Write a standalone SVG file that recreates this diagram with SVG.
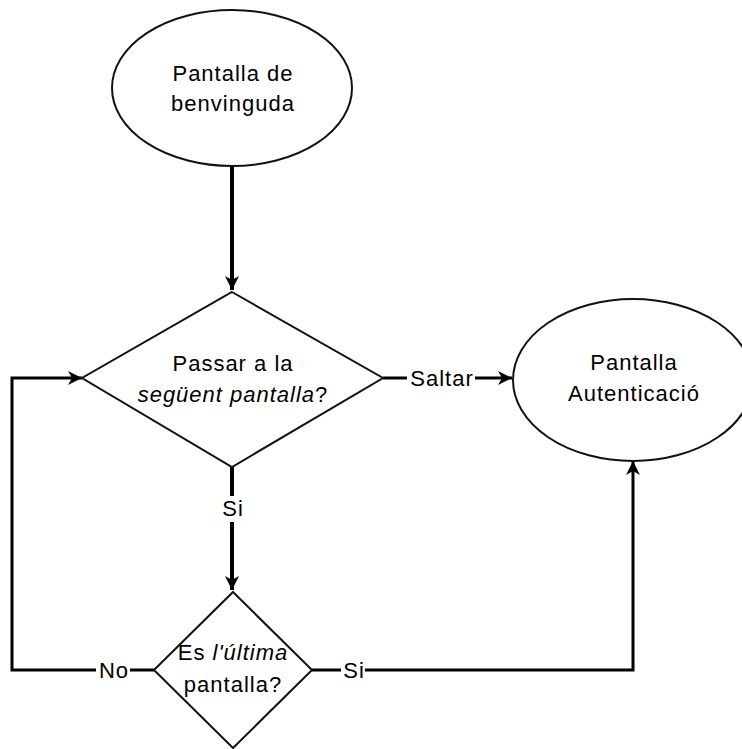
<svg xmlns="http://www.w3.org/2000/svg" width="742" height="749" viewBox="0 0 742 749">
  <style>
    .shape { fill: #ffffff; stroke: #111111; stroke-width: 2; }
    .txt { font-family: "Liberation Sans", Arial, sans-serif; font-size: 22px; letter-spacing: 1px; fill: #000000; text-anchor: middle; }
    .edge { fill: none; stroke: #000000; stroke-width: 3; }
    .edge.thick { stroke-width: 4; }
    .lblbg { fill: #ffffff; stroke: none; }
    .it { font-style: italic; }
  </style>
  <defs>
    <marker id="arrow" markerUnits="userSpaceOnUse" markerWidth="16" markerHeight="14" refX="14" refY="7" orient="auto">
      <path d="M0,0 L14,7 L0,14 L4,7 Z" fill="#000000"/>
    </marker>
  </defs>

  <!-- connectors -->
  <g id="connectors">
    <path class="edge thick" d="M232,166 V290" marker-end="url(#arrow)"/>
    <path class="edge thick" d="M232,467 V590" marker-end="url(#arrow)"/>
    <path class="edge" d="M383,378 H512" marker-end="url(#arrow)"/>
    <path class="edge" d="M155,670 H12 V378 H82" marker-end="url(#arrow)"/>
    <path class="edge" d="M312,670 H633 V461" marker-end="url(#arrow)"/>
    <!-- edge labels -->
    <rect class="lblbg" x="220" y="496" width="24" height="26"/>
    <text class="txt" x="233" y="516">Si</text>
    <rect class="lblbg" x="407" y="366" width="68" height="26"/>
    <text class="txt" x="442" y="386">Saltar</text>
    <rect class="lblbg" x="96" y="658" width="34" height="26"/>
    <text class="txt" x="114" y="678">No</text>
    <rect class="lblbg" x="341" y="658" width="24" height="26"/>
    <text class="txt" x="354" y="678">Si</text>
  </g>

  <!-- start screen -->
  <g id="welcome">
    <ellipse class="shape" cx="232" cy="88" rx="120" ry="78"/>
    <text class="txt" x="233" y="81">Pantalla de</text>
    <text class="txt" x="233" y="111">benvinguda</text>
  </g>

  <!-- first decision -->
  <g id="next-screen">
    <polygon class="shape" points="232,292 383,378 232,467 82,378"/>
    <text class="txt" x="233" y="371">Passar a la</text>
    <text class="txt" x="233" y="402"><tspan class="it">següent pantalla</tspan>?</text>
  </g>

  <!-- authentication screen -->
  <g id="auth">
    <ellipse class="shape" cx="633" cy="380" rx="120" ry="81"/>
    <text class="txt" x="634" y="370">Pantalla</text>
    <text class="txt" x="634" y="401">Autenticació</text>
  </g>

  <!-- second decision -->
  <g id="last-screen">
    <polygon class="shape" points="233,592 312,670 233,748 154,670"/>
    <text class="txt" x="233" y="660">Es <tspan class="it">l'última</tspan></text>
    <text class="txt" x="233" y="692">pantalla?</text>
  </g>
</svg>
